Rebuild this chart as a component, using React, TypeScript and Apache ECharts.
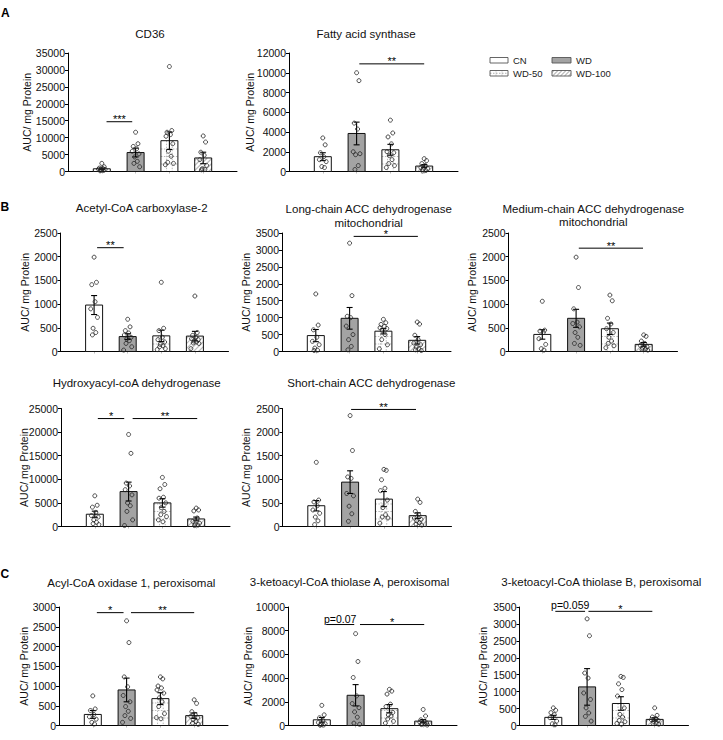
import React, { useEffect, useRef } from 'react';
import * as echarts from 'echarts';

const FONT = "'Liberation Sans', Arial, Helvetica, sans-serif";
const GROUPS = ['CN', 'WD', 'WD-50', 'WD-100'];
const Y_NAME = 'AUC/ mg Protein';
const PANEL_LETTERS = ['A', 'B', 'C'];

// ---- CD36
const cd36Title = ['CD36'];
const cd36Axis = [0, 35000, 5000];
const cd36Mean = [800, 5600, 9100, 4000];
const cd36Sem = [250, 1300, 2600, 1700];
const cd36Points = [
  [2400, 1400, 1000, 900, 700, 600, 400, 300, 200],
  [11600, 8200, 7400, 6700, 6000, 5200, 4300, 3000, 2400, 1400],
  [31000, 12100, 11600, 10900, 10400, 8200, 6000, 4500, 2700, 2400, 2000],
  [10500, 8700, 5700, 4800, 3500, 1800, 800, 600, 500],
];
const cd36Sig: [number, number, number, string][] = [[1.14, 1.9, 14700, '***']];

// ---- Fatty acid synthase
const fasTitle = ['Fatty acid synthase'];
const fasAxis = [0, 12000, 2000];
const fasMean = [1500, 3850, 2200, 550];
const fasSem = [400, 1150, 550, 150];
const fasPoints = [
  [3400, 2700, 1900, 1500, 1200, 1000, 500, 400],
  [10000, 9200, 4900, 4300, 2000, 1800, 1700, 600, 200],
  [5200, 3900, 3500, 2800, 2000, 1900, 1600, 1200, 800, 600, 400],
  [1300, 1100, 800, 600, 400, 300, 200, 100, 50],
];
const fasSig: [number, number, number, string][] = [[2.08, 4.0, 10900, '**']];

// ---- Acetyl-CoA carboxylase-2
const acc2Title = ['Acetyl-CoA carboxylase-2'];
const acc2Axis = [0, 2500, 500];
const acc2Mean = [980, 315, 330, 325];
const acc2Sem = [200, 60, 120, 100];
const acc2Points = [
  [1990, 1460, 1410, 1050, 900, 720, 490, 400, 350],
  [680, 520, 440, 390, 350, 300, 260, 230, 170, 100, 30],
  [1460, 490, 440, 300, 250, 200, 150, 120, 100, 60, 40],
  [1170, 400, 340, 300, 270, 250, 220, 200, 180, 170, 60],
];
const acc2Sig: [number, number, number, string][] = [[1.09, 1.88, 2190, '**']];

// ---- Long-chain ACC dehydrogenase mitochondrial
const lcTitle = ['Long-chain ACC dehydrogenase', 'mitochondrial'];
const lcAxis = [0, 3500, 500];
const lcMean = [470, 980, 600, 330];
const lcSem = [180, 320, 80, 110];
const lcPoints = [
  [1700, 780, 640, 420, 300, 200, 100, 40, 30],
  [3200, 1650, 1040, 1000, 750, 500, 350, 150, 50],
  [950, 850, 800, 740, 700, 680, 620, 500, 350, 200, 80],
  [870, 810, 480, 350, 250, 200, 130, 80, 50, 30],
];
const lcSig: [number, number, number, string][] = [[2.12, 4.02, 3400, '*']];

// ---- Medium-chain ACC dehydrogenase mitochondrial
const mcTitle = ['Medium-chain ACC dehydrogenase', 'mitochondrial'];
const mcAxis = [0, 2500, 500];
const mcMean = [360, 700, 480, 150];
const mcSem = [100, 190, 120, 40];
const mcPoints = [
  [1060, 450, 430, 400, 270, 150, 60, 30],
  [1990, 1350, 900, 620, 590, 520, 400, 300, 170, 130],
  [1190, 1070, 700, 580, 480, 400, 300, 220, 170, 120, 80],
  [350, 320, 220, 170, 130, 100, 70, 50, 40, 30],
];
const mcSig: [number, number, number, string][] = [[2.08, 3.98, 2180, '**']];

// ---- Hydroxyacyl-coA dehydrogenase
const hadTitle = ['Hydroxyacyl-coA dehydrogenase'];
const hadAxis = [0, 25000, 5000];
const hadMean = [2600, 7400, 5000, 1600];
const hadSem = [650, 2000, 900, 400];
const hadPoints = [
  [6500, 4500, 4100, 3000, 2300, 2000, 1400, 900, 600, 400],
  [19500, 15500, 9200, 8600, 7800, 6700, 5000, 4400, 3200, 1400, 200],
  [10400, 8900, 8000, 6200, 6000, 5000, 4000, 3200, 2500, 2100, 1400, 1000],
  [3900, 3500, 3300, 1800, 1100, 700, 500, 300, 200],
];
const hadSig: [number, number, number, string][] = [
  [1.09, 1.87, 22870, '*'],
  [2.12, 4.03, 22870, '**'],
];

// ---- Short-chain ACC dehydrogenase
const scTitle = ['Short-chain ACC dehydrogenase'];
const scAxis = [0, 2500, 500];
const scMean = [440, 940, 580, 230];
const scSem = [110, 240, 160, 60];
const scPoints = [
  [1360, 560, 520, 440, 350, 280, 200, 120, 40],
  [2350, 1610, 1050, 1020, 700, 650, 430, 270, 110],
  [1210, 1190, 990, 810, 760, 560, 400, 250, 200, 180, 70],
  [580, 510, 320, 250, 180, 150, 120, 80, 50, 30],
];
const scSig: [number, number, number, string][] = [[2.03, 3.95, 2480, '**']];

// ---- Acyl-CoA oxidase 1, peroxisomal
const acoxTitle = ['Acyl-CoA oxidase 1, peroxisomal'];
const acoxAxis = [0, 3000, 500];
const acoxMean = [280, 900, 680, 250];
const acoxSem = [100, 300, 150, 70];
const acoxPoints = [
  [750, 420, 380, 280, 220, 160, 80, 40],
  [2650, 2100, 1230, 980, 760, 600, 480, 360, 250, 180, 80],
  [1230, 1180, 1000, 950, 900, 820, 700, 600, 480, 300, 200, 170],
  [650, 560, 350, 280, 230, 200, 150, 100, 60, 30],
];
const acoxSig: [number, number, number, string][] = [
  [1.12, 1.91, 2857, '*'],
  [2.13, 4.0, 2857, '**'],
];

// ---- 3-ketoacyl-CoA thiolase A, peroxisomal
const ktaTitle = ['3-ketoacyl-CoA thiolase A, peroxisomal'];
const ktaAxis = [0, 10000, 2000];
const ktaMean = [480, 2550, 1420, 370];
const ktaSem = [200, 900, 350, 130];
const ktaPoints = [
  [1700, 900, 650, 450, 250, 150, 80, 40, 20],
  [7750, 5400, 4050, 2500, 1850, 1500, 1150, 700, 200, 100],
  [3050, 2900, 2650, 1800, 1600, 1100, 900, 800, 550, 350, 200],
  [1350, 800, 480, 340, 280, 220, 170, 120, 80, 40],
];
const ktaSig: [number, number, number, string][] = [
  [1.13, 1.96, 8520, 'p=0.07'],
  [2.13, 4.03, 8520, '*'],
];

// ---- 3-ketoacyl-CoA thiolase B, peroxisomal
const ktbTitle = ['3-ketoacyl-CoA thiolase B, peroxisomal'];
const ktbAxis = [0, 3500, 500];
const ktbMean = [240, 1140, 650, 180];
const ktbSem = [60, 540, 200, 50];
const ktbPoints = [
  [520, 450, 380, 320, 230, 130, 50, 20],
  [3150, 2650, 1550, 1400, 960, 770, 520, 370, 270, 130],
  [1450, 1420, 1230, 1060, 870, 520, 330, 250, 150, 110, 60, 40],
  [520, 300, 250, 200, 170, 150, 120, 90, 60, 40],
];
const ktbSig: [number, number, number, string][] = [
  [1.06, 1.94, 3372, 'p=0.059'],
  [2.04, 3.93, 3372, '*'],
];

// fixed horizontal scatter offsets (in category units) for the dots
const JITTER = [0, 0.07, -0.07, 0.03, -0.1, 0.1, -0.03, 0.05, -0.05, 0.12, -0.12, 0.015];

const PANELS = [
  { title: cd36Title, axis: cd36Axis, mean: cd36Mean, sem: cd36Sem, points: cd36Points, sig: cd36Sig },
  { title: fasTitle, axis: fasAxis, mean: fasMean, sem: fasSem, points: fasPoints, sig: fasSig },
  { title: acc2Title, axis: acc2Axis, mean: acc2Mean, sem: acc2Sem, points: acc2Points, sig: acc2Sig },
  { title: lcTitle, axis: lcAxis, mean: lcMean, sem: lcSem, points: lcPoints, sig: lcSig },
  { title: mcTitle, axis: mcAxis, mean: mcMean, sem: mcSem, points: mcPoints, sig: mcSig },
  { title: hadTitle, axis: hadAxis, mean: hadMean, sem: hadSem, points: hadPoints, sig: hadSig },
  { title: scTitle, axis: scAxis, mean: scMean, sem: scSem, points: scPoints, sig: scSig },
  { title: acoxTitle, axis: acoxAxis, mean: acoxMean, sem: acoxSem, points: acoxPoints, sig: acoxSig },
  { title: ktaTitle, axis: ktaAxis, mean: ktaMean, sem: ktaSem, points: ktaPoints, sig: ktaSig },
  { title: ktbTitle, axis: ktbAxis, mean: ktbMean, sem: ktbSem, points: ktbPoints, sig: ktbSig },
];

// layout (pixels)
const LAYOUT = [
  { left: 68, top: 53, width: 169, height: 118.5, tx: 150, ty: 34, nx: 27 },
  { left: 289, top: 53, width: 169, height: 118.5, tx: 366, ty: 34, nx: 250 },
  { left: 60.5, top: 233, width: 168, height: 118.5, tx: 141.7, ty: 208, nx: 25 },
  { left: 282, top: 233, width: 169, height: 118.5, tx: 368.7, ty: 209.3, nx: 246 },
  { left: 508.5, top: 233, width: 169, height: 118.5, tx: 593.3, ty: 209, nx: 472 },
  { left: 61, top: 408.5, width: 169, height: 118, tx: 136.7, ty: 382.7, nx: 24 },
  { left: 282.5, top: 408.5, width: 169, height: 118, tx: 371.3, ty: 383.3, nx: 246 },
  { left: 59, top: 607, width: 169, height: 118.5, tx: 131.3, ty: 582.7, nx: 24 },
  { left: 288, top: 607, width: 169, height: 118.5, tx: 349.5, ty: 581.7, nx: 247.5 },
  { left: 519.5, top: 607, width: 169, height: 118.5, tx: 601.3, ty: 581.7, nx: 483 },
];
const LETTER_POS = [[1, 13], [0.5, 206.5], [0.5, 573.5]];

const WD_GRAY = '#a3a3a3';
const PATTERN_GRAY = '#9a9a9a';
const HATCH_GRAY = '#bdbdbd';

function hatchSegments(x0: number, y0: number, w: number, h: number, step: number) {
  const segs: number[][] = [];
  for (let k = x0 + y0 + step * 0.5; k < x0 + w + y0 + h; k += step) {
    const lo = Math.max(x0, k - (y0 + h));
    const hi = Math.min(x0 + w, k - y0);
    if (hi - lo > 0.3) segs.push([lo, k - lo, hi, k - hi]);
  }
  return segs;
}

function barRender(params: any, api: any) {
  const x = api.value(0);
  const m = api.value(1);
  const s = api.value(2);
  const g = api.value(3);
  const c = api.coord([x, m]);
  const b = api.coord([x, 0]);
  const hw = 8.5;
  const x0 = c[0] - hw;
  const y0 = c[1];
  const w = hw * 2;
  const h = b[1] - c[1];
  const children: any[] = [];
  children.push({
    type: 'rect',
    shape: { x: x0, y: y0, width: w, height: h },
    style: { fill: g === 1 ? WD_GRAY : '#ffffff' },
  });
  if (g === 2) {
    for (let yy = b[1] - 7.5; yy > y0 + 1; yy -= 7.5) {
      children.push({
        type: 'line',
        shape: { x1: x0, y1: yy, x2: x0 + w, y2: yy },
        style: { stroke: PATTERN_GRAY, lineWidth: 0.7, lineDash: [1.5, 1.5] },
      });
    }
    [1 / 3, 2 / 3].forEach((f) => {
      children.push({
        type: 'line',
        shape: { x1: x0 + w * f, y1: y0, x2: x0 + w * f, y2: b[1] },
        style: { stroke: PATTERN_GRAY, lineWidth: 0.7, lineDash: [1.5, 1.5] },
      });
    });
  }
  if (g === 3) {
    hatchSegments(x0, y0, w, h, 5).forEach((sg) => {
      children.push({
        type: 'line',
        shape: { x1: sg[0], y1: sg[1], x2: sg[2], y2: sg[3] },
        style: { stroke: HATCH_GRAY, lineWidth: 1.2 },
      });
    });
  }
  children.push({
    type: 'rect',
    shape: { x: x0, y: y0, width: w, height: h },
    style: { fill: 'none', stroke: '#111', lineWidth: 1 },
  });
  const hi = api.coord([x, m + s]);
  const lo = api.coord([x, Math.max(0, m - s)]);
  const cap = 3;
  children.push({ type: 'line', shape: { x1: c[0], y1: hi[1], x2: c[0], y2: lo[1] }, style: { stroke: '#000', lineWidth: 1.1 } });
  children.push({ type: 'line', shape: { x1: c[0] - cap, y1: hi[1], x2: c[0] + cap, y2: hi[1] }, style: { stroke: '#000', lineWidth: 1.1 } });
  children.push({ type: 'line', shape: { x1: c[0] - cap, y1: lo[1], x2: c[0] + cap, y2: lo[1] }, style: { stroke: '#000', lineWidth: 1.1 } });
  return { type: 'group', children };
}

function makeSigRender(labels: string[]) {
  return (params: any, api: any) => {
    const p1 = api.coord([api.value(0), api.value(2)]);
    const p2 = api.coord([api.value(1), api.value(2)]);
    const label = labels[params.dataIndex];
    const isStar = label.indexOf('*') === 0;
    return {
      type: 'group',
      children: [
        { type: 'line', shape: { x1: p1[0], y1: p1[1], x2: p2[0], y2: p2[1] }, style: { stroke: '#000', lineWidth: 1 } },
        {
          type: 'text',
          style: {
            text: label,
            x: (p1[0] + p2[0]) / 2,
            y: isStar ? p1[1] - 2.5 : p1[1] - 6,
            align: 'center',
            verticalAlign: 'middle',
            textAlign: 'center',
            textVerticalAlign: 'middle',
            fontSize: isStar ? 11 : 10.5,
            fontFamily: FONT,
            fill: '#000',
          },
        },
      ],
    };
  };
}

function textEl(text: string, x: number, y: number, size: number, extra: any = {}) {
  return {
    type: 'text',
    x,
    y,
    rotation: extra.rotation || 0,
    style: {
      text,
      fontSize: size,
      fontFamily: FONT,
      fontWeight: extra.bold ? 'bold' : 'normal',
      fill: extra.fill || '#111',
      align: extra.align || 'center',
      textAlign: extra.align || 'center',
      verticalAlign: 'middle',
      textVerticalAlign: 'middle',
    },
  };
}

function legendGraphics() {
  const els: any[] = [];
  const boxes = [
    { x: 490, y: 57.5, w: 18, label: GROUPS[0], g: 0 },
    { x: 552, y: 57.5, w: 19, label: GROUPS[1], g: 1 },
    { x: 490, y: 70.5, w: 18, label: GROUPS[2], g: 2 },
    { x: 552, y: 70.5, w: 19, label: GROUPS[3], g: 3 },
  ];
  const h = 5.5;
  boxes.forEach((bx) => {
    els.push({
      type: 'rect',
      shape: { x: bx.x, y: bx.y, width: bx.w, height: h },
      style: { fill: bx.g === 1 ? WD_GRAY : '#fff', stroke: 'none' },
    });
    if (bx.g === 2) {
      els.push({ type: 'line', shape: { x1: bx.x, y1: bx.y + h / 2, x2: bx.x + bx.w, y2: bx.y + h / 2 }, style: { stroke: PATTERN_GRAY, lineWidth: 0.8, lineDash: [1.5, 1.5] } });
      [1 / 3, 2 / 3].forEach((f) => {
        els.push({ type: 'line', shape: { x1: bx.x + bx.w * f, y1: bx.y, x2: bx.x + bx.w * f, y2: bx.y + h }, style: { stroke: PATTERN_GRAY, lineWidth: 0.7, lineDash: [1, 1] } });
      });
    }
    if (bx.g === 3) {
      hatchSegments(bx.x, bx.y, bx.w, h, 4).forEach((sg) => {
        els.push({ type: 'line', shape: { x1: sg[0], y1: sg[1], x2: sg[2], y2: sg[3] }, style: { stroke: HATCH_GRAY, lineWidth: 1.1 } });
      });
    }
    els.push({
      type: 'rect',
      shape: { x: bx.x, y: bx.y, width: bx.w, height: h },
      style: { fill: 'none', stroke: '#555', lineWidth: 0.9 },
    });
    els.push(textEl(bx.label, bx.x + bx.w + 5, bx.y + h / 2 + 0.5, 9.5, { align: 'left', fill: '#222' }));
  });
  return els;
}

export default function App() {
  const ref = useRef<HTMLDivElement>(null);
  useEffect(() => {
    if (!ref.current) return;
    const chart = echarts.init(ref.current, null, { renderer: 'svg' });
    const grid: any[] = [];
    const xAxis: any[] = [];
    const yAxis: any[] = [];
    const series: any[] = [];
    const graphic: any[] = [];

    PANELS.forEach((p, i) => {
      const L = LAYOUT[i];
      grid.push({ left: L.left, top: L.top, width: L.width, height: L.height, containLabel: false });
      xAxis.push({
        gridIndex: i,
        type: 'value',
        min: 0,
        max: 5,
        axisLine: { show: true, onZero: false, lineStyle: { color: '#000', width: 1 } },
        axisTick: { show: true, customValues: [1, 2, 3, 4], length: 2, lineStyle: { color: '#bbb' } },
        axisLabel: { show: false },
        splitLine: { show: false },
      });
      yAxis.push({
        gridIndex: i,
        type: 'value',
        min: p.axis[0],
        max: p.axis[1],
        interval: p.axis[2],
        axisLine: { show: true, lineStyle: { color: '#000', width: 1 } },
        axisTick: { show: true, length: 3, lineStyle: { color: '#000' } },
        axisLabel: {
          fontSize: 10.5,
          color: '#111',
          margin: 3,
          fontFamily: FONT,
          formatter: (v: number) => String(v),
        },
        splitLine: { show: false },
      });
      series.push({
        type: 'custom',
        xAxisIndex: i,
        yAxisIndex: i,
        renderItem: barRender,
        encode: { x: 0, y: 1 },
        data: p.mean.map((m, g) => [g + 1, m, p.sem[g], g]),
        z: 2,
        silent: true,
      });
      const pts: number[][] = [];
      p.points.forEach((arr, g) => {
        arr.forEach((v, k) => pts.push([g + 1 + JITTER[k % JITTER.length], v]));
      });
      series.push({
        type: 'scatter',
        xAxisIndex: i,
        yAxisIndex: i,
        data: pts,
        symbol: 'circle',
        symbolSize: 4,
        itemStyle: { color: 'rgba(255,255,255,0)', borderColor: '#222', borderWidth: 1 },
        z: 3,
        silent: true,
      });
      series.push({
        type: 'custom',
        xAxisIndex: i,
        yAxisIndex: i,
        renderItem: makeSigRender(p.sig.map((s) => s[3])),
        encode: { x: [0, 1], y: 2 },
        data: p.sig.map((s) => [s[0], s[1], s[2]]),
        z: 4,
        silent: true,
      });
      p.title.forEach((line, li) => {
        graphic.push(textEl(line, L.tx, L.ty + li * 13.4, 11.5));
      });
      graphic.push(textEl(Y_NAME, L.nx, L.top + L.height / 2, 10.5, { rotation: Math.PI / 2 }));
    });

    PANEL_LETTERS.forEach((t, i) => {
      graphic.push(textEl(t, LETTER_POS[i][0], LETTER_POS[i][1], 12, { align: 'left', bold: true, fill: '#000' }));
    });
    legendGraphics().forEach((e) => graphic.push(e));

    chart.setOption({
      animation: false,
      backgroundColor: '#ffffff',
      grid,
      xAxis,
      yAxis,
      series,
      graphic,
    });
    return () => chart.dispose();
  }, []);
  return (
    <div
      ref={ref}
      style={{ position: 'absolute', left: 0, top: 0, width: 723, height: 740, background: '#fff' }}
    />
  );
}
